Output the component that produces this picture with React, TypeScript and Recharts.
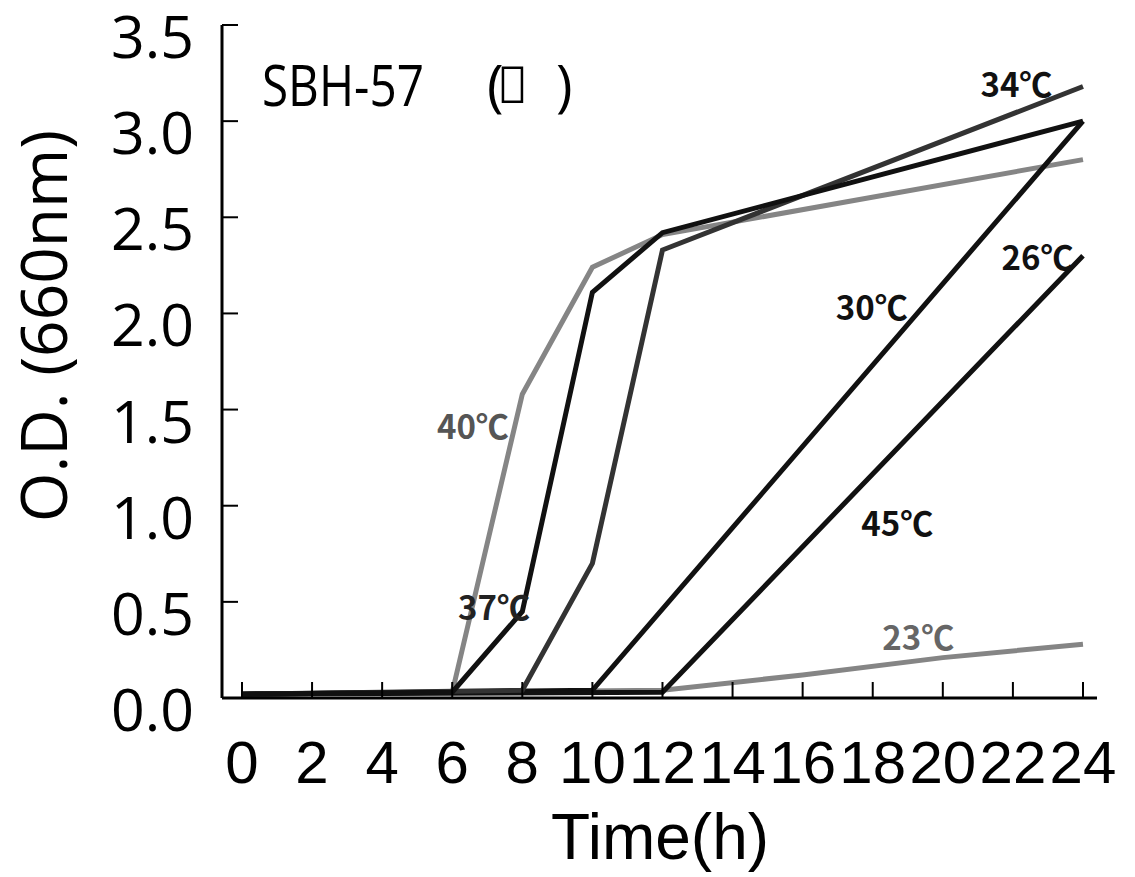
import { Line, LineChart, ReferenceDot, XAxis, YAxis } from "recharts";

// growth curves, O.D.(660nm) vs time (h)
const hours = [0, 2, 4, 6, 8, 10, 12, 14, 16, 18, 20, 22, 24];
const odTicks = [0, 0.5, 1, 1.5, 2, 2.5, 3, 3.5];

const c40 = [
  { h: 0, od: 0.02 },
  { h: 6, od: 0.03 },
  { h: 8, od: 1.58 },
  { h: 10, od: 2.24 },
  { h: 12, od: 2.41 },
  { h: 24, od: 2.8 }
];
const c37 = [
  { h: 0, od: 0.02 },
  { h: 6, od: 0.03 },
  { h: 8, od: 0.45 },
  { h: 10, od: 2.11 },
  { h: 12, od: 2.42 },
  { h: 24, od: 3.0 }
];
const c34 = [
  { h: 0, od: 0.02 },
  { h: 8, od: 0.04 },
  { h: 10, od: 0.7 },
  { h: 12, od: 2.33 },
  { h: 24, od: 3.18 }
];
const c30 = [
  { h: 0, od: 0.02 },
  { h: 10, od: 0.04 },
  { h: 24, od: 3.0 }
];
const c26 = [
  { h: 0, od: 0.02 },
  { h: 12, od: 0.03 },
  { h: 24, od: 2.3 }
];
const c23 = [
  { h: 0, od: 0.02 },
  { h: 12, od: 0.04 },
  { h: 16, od: 0.12 },
  { h: 20, od: 0.21 },
  { h: 24, od: 0.28 }
];

// where each temperature tag sits (data units)
const tags = [
  { text: "40℃", h: 6.59, od: 1.42, color: "#555" },
  { text: "37℃", h: 7.19, od: 0.48, color: "#222" },
  { text: "34℃", h: 22.1, od: 3.2, color: "#111" },
  { text: "30℃", h: 17.97, od: 2.04, color: "#111" },
  { text: "26℃", h: 22.7, od: 2.3, color: "#111" },
  { text: "45℃", h: 18.7, od: 0.915, color: "#111" },
  { text: "23℃", h: 19.3, od: 0.32, color: "#666" }
];

const sans = "'Liberation Sans', Arial, sans-serif";
const round = "'Open Sans', 'Liberation Sans', sans-serif";
const tagFont = "'Noto Sans CJK JP', 'DejaVu Sans', sans-serif";

function YTick({ x, y, payload }: any) {
  return (
    <g>
      <line x1={x} y1={y} x2={x + 16} y2={y} stroke="#000" strokeWidth={2} />
      <text x={x - 28} y={y + 33} textAnchor="end" fontSize={59} fontFamily={round} fill="#000">
        {Number(payload.value).toFixed(1)}
      </text>
    </g>
  );
}

function XTick({ x, y, payload }: any) {
  return (
    <g>
      <line x1={x} y1={y} x2={x} y2={y - 16} stroke="#000" strokeWidth={2} />
      <text x={x} y={y + 85} textAnchor="middle" fontSize={60} fontFamily={sans} fill="#000">
        {payload.value}
      </text>
    </g>
  );
}

const tagShape = (text: string, color: string) => (p: any) => (
  <text
    x={p.cx}
    y={p.cy}
    textAnchor="middle"
    dominantBaseline="central"
    fontSize={33}
    fontWeight={600}
    fontFamily={tagFont}
    fill={color}
  >
    {text}
  </text>
);

const titleShape = (p: any) => (
  <g fill="#000" fontFamily={round}>
    <text x={p.cx} y={p.cy} fontSize={56} textLength={162} lengthAdjust="spacingAndGlyphs">
      SBH-57
    </text>
    <text x={p.cx + 225} y={p.cy} fontSize={56}>
      (
    </text>
    <rect x={p.cx + 241} y={p.cy - 38} width={19} height={34} fill="none" stroke="#000" strokeWidth={2.5} />
    <text x={p.cx + 294} y={p.cy} fontSize={56}>
      )
    </text>
  </g>
);

export default function App() {
  return (
    <div style={{ position: "absolute", left: 0, top: 0, background: "#fff" }}>
      <LineChart width={1135} height={877} margin={{ top: 25, right: 38, bottom: 0, left: 0 }}>
        <XAxis
          dataKey="h"
          type="number"
          domain={[-0.57, 24.4]}
          ticks={hours}
          allowDataOverflow
          height={179}
          tickSize={0}
          tickMargin={0}
          tickLine={false}
          axisLine={{ stroke: "#000", strokeWidth: 3 }}
          tick={<XTick />}
          label={(props: any) => (
            <text
              x={props.viewBox.x + 438}
              y={859}
              textAnchor="middle"
              fontSize={64}
              fontFamily={sans}
              fill="#000"
            >
              Time(h)
            </text>
          )}
        />
        <YAxis
          dataKey="od"
          type="number"
          domain={[0, 3.5]}
          ticks={odTicks}
          width={222}
          tickSize={0}
          tickMargin={0}
          tickLine={false}
          axisLine={{ stroke: "#000", strokeWidth: 3 }}
          tick={<YTick />}
          label={() => (
            <text
              x={67}
              y={326}
              transform="rotate(-90 67 326)"
              textAnchor="middle"
              fontSize={64}
              fontFamily={round}
              fill="#000"
            >
              O.D. (660nm)
            </text>
          )}
        />
        <Line data={c40} dataKey="od" stroke="#858585" strokeWidth={5} dot={false} isAnimationActive={false} />
        <Line data={c23} dataKey="od" stroke="#858585" strokeWidth={5} dot={false} isAnimationActive={false} />
        <Line data={c30} dataKey="od" stroke="#111" strokeWidth={5} dot={false} isAnimationActive={false} />
        <Line data={c26} dataKey="od" stroke="#111" strokeWidth={5} dot={false} isAnimationActive={false} />
        <Line data={c34} dataKey="od" stroke="#333" strokeWidth={5} dot={false} isAnimationActive={false} />
        <Line data={c37} dataKey="od" stroke="#111" strokeWidth={5} dot={false} isAnimationActive={false} />
        {tags.map((t) => (
          <ReferenceDot key={t.text} x={t.h} y={t.od} r={0} shape={tagShape(t.text, t.color)} />
        ))}
        <ReferenceDot x={0.57} y={3.08} r={0} shape={titleShape} />
      </LineChart>
    </div>
  );
}
